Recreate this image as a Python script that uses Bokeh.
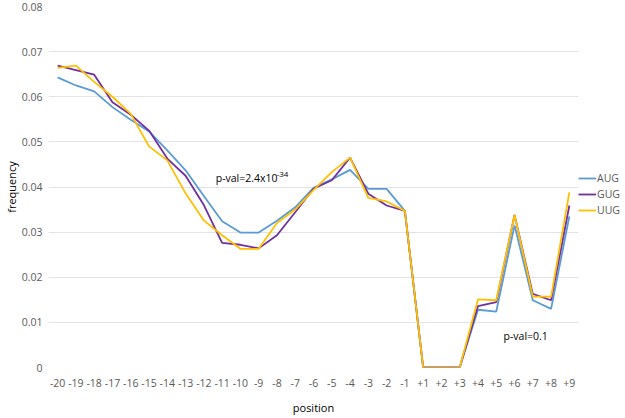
from bokeh.plotting import figure
from bokeh.models import FactorRange, Range1d, FixedTicker, Legend, LegendItem, Label, ColumnDataSource
from bokeh.embed import file_html
from bokeh.resources import INLINE

positions = ["-20", "-19", "-18", "-17", "-16", "-15", "-14", "-13", "-12", "-11", "-10",
             "-9", "-8", "-7", "-6", "-5", "-4", "-3", "-2", "-1",
             "+1", "+2", "+3", "+4", "+5", "+6", "+7", "+8", "+9"]

aug = [0.0643, 0.0625, 0.0612, 0.0577, 0.0549, 0.0523, 0.0481, 0.0437, 0.0380, 0.0324,
       0.0299, 0.0299, 0.0325, 0.0355, 0.0398, 0.0417, 0.0438, 0.0396, 0.0396, 0.0347,
       0.0, 0.0, 0.0, 0.0128, 0.0124, 0.0315, 0.0149, 0.0130, 0.0335]
gug = [0.0669, 0.0659, 0.0649, 0.0588, 0.0560, 0.0525, 0.0463, 0.0425, 0.0360, 0.0276,
       0.0272, 0.0264, 0.0293, 0.0344, 0.0396, 0.0415, 0.0465, 0.0385, 0.0359, 0.0347,
       0.0, 0.0, 0.0, 0.0136, 0.0145, 0.0338, 0.0163, 0.0149, 0.0359]
uug = [0.0664, 0.0669, 0.0633, 0.0600, 0.0562, 0.0490, 0.0459, 0.0386, 0.0326, 0.0293,
       0.0263, 0.0263, 0.0320, 0.0350, 0.0393, 0.0433, 0.0465, 0.0376, 0.0368, 0.0347,
       0.0, 0.0, 0.0, 0.0151, 0.0149, 0.0338, 0.0157, 0.0157, 0.0388]

series_names = ["AUG", "GUG", "UUG"]
series_colors = ["#5b9bd5", "#7030a0", "#ffc000"]
y_ticks = [0, 0.01, 0.02, 0.03, 0.04, 0.05, 0.06, 0.07, 0.08]

FONT = "Open Sans"
TICK_COLOR = "#595959"

p = figure(output_backend="svg", toolbar_location=None,
           x_range=FactorRange(*positions, range_padding=0),
           y_range=Range1d(0, 0.08),
           frame_width=530, frame_height=361,
           min_border_left=48, min_border_right=44, min_border_top=6, min_border_bottom=0)
p.outline_line_color = None
p.background_fill_color = "white"
p.border_fill_color = "white"

src = ColumnDataSource(dict(pos=positions, AUG=aug, GUG=gug, UUG=uug))
renderers = []
for name, col in zip(series_names, series_colors):
    r = p.line("pos", name, source=src, line_color=col, line_width=1.8)
    renderers.append(r)

legend = Legend(items=[LegendItem(label=n, renderers=[r]) for n, r in zip(series_names, renderers)],
                location=(0, 150), orientation="vertical",
                glyph_width=18, glyph_height=10, label_standoff=1, spacing=2,
                padding=5, margin=0, border_line_color=None, background_fill_alpha=0,
                label_text_font=FONT, label_text_font_size="10.5px", label_text_color=TICK_COLOR)
p.add_layout(legend, "right")

p.xgrid.grid_line_color = None
p.ygrid.grid_line_color = "#e3e3e3"
p.ygrid.grid_line_width = 1
p.yaxis.ticker = FixedTicker(ticks=y_ticks)
p.yaxis.major_label_overrides = {0: "0"}

for ax in (p.xaxis, p.yaxis):
    ax.axis_line_color = None
    ax.major_tick_line_color = None
    ax.minor_tick_line_color = None
    ax.major_tick_out = 0
    ax.major_tick_in = 0
    ax.minor_tick_out = 0
    ax.minor_tick_in = 0
    ax.major_label_text_font = FONT
    ax.major_label_text_font_size = "10.5px"
    ax.major_label_text_color = TICK_COLOR
    ax.axis_label_text_font = FONT
    ax.axis_label_text_font_size = "11px"
    ax.axis_label_text_font_style = "normal"
    ax.axis_label_text_color = "#000000"

p.xaxis.axis_label = "position"
p.yaxis.axis_label = "frequency"
p.xaxis.major_label_standoff = 11
p.xaxis.axis_label_standoff = 10
p.yaxis.major_label_standoff = 6
p.yaxis.axis_label_standoff = 0

lab1 = Label(x=9.15, y=0.0419, text="p-val=2.4x10", text_font=FONT, text_font_size="10.5px",
             text_color="#000000", text_baseline="middle")
lab1b = Label(x=9.15, y=0.0419, x_offset=61, y_offset=4, text="-34", text_font=FONT,
              text_font_size="8px", text_color="#000000", text_baseline="middle")
lab2 = Label(x=24.9, y=0.0069, text="p-val=0.1", text_font=FONT, text_font_size="10.5px",
             text_color="#000000", text_baseline="middle")
for lb in (lab1, lab1b, lab2):
    p.add_layout(lb)

open("out.html", "w").write(file_html(p, INLINE))
